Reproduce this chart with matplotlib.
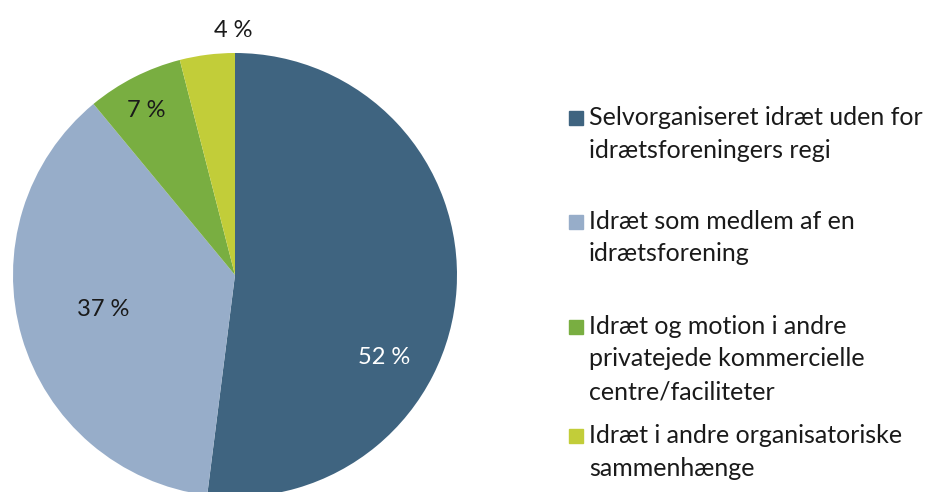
import matplotlib.pyplot as plt
from matplotlib.patches import Rectangle

# shares in percent, drawn clockwise from 12 o'clock
categories = [
    "Selvorganiseret idræt uden for\nidrætsforeningers regi",
    "Idræt som medlem af en\nidrætsforening",
    "Idræt og motion i andre\nprivatejede kommercielle\ncentre/faciliteter",
    "Idræt i andre organisatoriske\nsammenhænge",
]
shares = [52, 37, 7, 4]
colors = ["#3f6480", "#97adc9", "#79ae41", "#c2cd39"]

# label placement (fraction of radius) and text colour, as in the original
label_pos = [(0.67, -0.37), (-0.595, -0.155), (-0.40, 0.74), (-0.01, 1.10)]
label_color = ["white", "#1a1a1a", "#1a1a1a", "#1a1a1a"]
legend_y = [118, 222, 327, 436]  # first-line centre, pixels from top

plt.rcParams['font.family'] = ['Lato', 'DejaVu Sans']

W, H = 927, 492
fig = plt.figure(figsize=(W / 100, H / 100), dpi=100)

# pie axes: centre ~ (235, 275) px, radius ~ 222 px
cx, cy, r = 235, 275, 222
ax = fig.add_axes([(cx - r) / W, 1 - (cy + r) / H, 2 * r / W, 2 * r / H])
ax.pie(shares, colors=colors, startangle=90, counterclock=False,
       wedgeprops=dict(linewidth=0))
ax.set_xlim(-1, 1)
ax.set_ylim(-1, 1)
ax.set_aspect('equal')
ax.axis('off')

for val, (px, py), col in zip(shares, label_pos, label_color):
    ax.text(px, py, f"{val} %", ha='center', va='center', fontsize=17, color=col)

# legend drawn by hand so the spacing follows the original
for name, col, y in zip(categories, colors, legend_y):
    fig.patches.append(Rectangle((569 / W, 1 - (y + 7) / H), 14 / W, 14 / H,
                                 transform=fig.transFigure, color=col))
    fig.text(589 / W, 1 - (y - 12) / H, name, ha='left', va='top',
             fontsize=18, color="#1a1a1a", linespacing=1.5)

fig.savefig("out.png", dpi=100)
